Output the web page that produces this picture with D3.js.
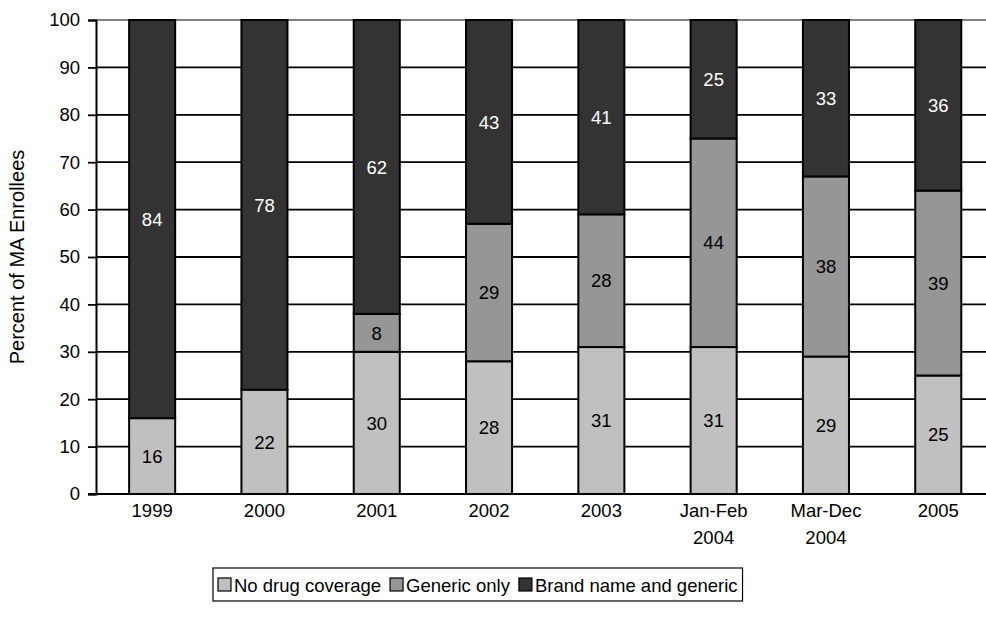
<!DOCTYPE html>
<html>
<head>
<meta charset="utf-8">
<script src="https://cdn.jsdelivr.net/npm/d3@7/dist/d3.min.js"></script>
<style>
  html, body { margin: 0; padding: 0; background: #fff; }
  svg { display: block; font-family: "Liberation Sans", Arial, sans-serif; }
</style>
</head>
<body>
<svg id="chart" width="986" height="639"></svg>
<script>
// Drug coverage of Medicare Advantage enrollees, by period
const periods = ["1999", "2000", "2001", "2002", "2003", "Jan-Feb\n2004", "Mar-Dec\n2004", "2005"];
const noDrug = [16, 22, 30, 28, 31, 31, 29, 25];
const genericOnly = [0, 0, 8, 29, 28, 44, 38, 39];
const brandAndGeneric = [84, 78, 62, 43, 41, 25, 33, 36];
const seriesNames = ["No drug coverage", "Generic only", "Brand name and generic"];
const yTicks = [0, 10, 20, 30, 40, 50, 60, 70, 80, 90, 100];

const colors = ["#c0c0c0", "#969696", "#333333"];
const labelColors = ["#000", "#000", "#fff"];
const fontSize = 18.5;

const svg = d3.select("#chart");
const margin = { left: 96, top: 20 };
const plotW = 112.3 * periods.length;
const plotBottom = 494;

const x = d3.scaleBand().domain(periods).range([margin.left, margin.left + plotW]).paddingInner(0.59).paddingOuter(0.295);
const y = d3.scaleLinear().domain([0, 100]).range([plotBottom, margin.top]);

// gridlines
svg.append("g")
  .selectAll("line")
  .data(yTicks.filter(t => t > 0 && t < 100))
  .join("line")
  .attr("x1", margin.left).attr("x2", margin.left + plotW)
  .attr("y1", d => y(d)).attr("y2", d => y(d))
  .attr("stroke", "#000").attr("stroke-width", 1.8);

// plot area top border
svg.append("line")
  .attr("x1", margin.left).attr("x2", margin.left + plotW)
  .attr("y1", y(100)).attr("y2", y(100))
  .attr("stroke", "#808080").attr("stroke-width", 2);

// stacked bars
const rows = periods.map((p, i) => ({ period: p, vals: [noDrug[i], genericOnly[i], brandAndGeneric[i]] }));
const segs = [];
rows.forEach(r => {
  let base = 0;
  r.vals.forEach((v, k) => {
    if (v > 0) segs.push({ period: r.period, k, y0: base, y1: base + v, v });
    base += v;
  });
});

svg.append("g")
  .selectAll("rect")
  .data(segs)
  .join("rect")
  .attr("x", d => x(d.period))
  .attr("width", x.bandwidth())
  .attr("y", d => y(d.y1))
  .attr("height", d => y(d.y0) - y(d.y1))
  .attr("fill", d => colors[d.k])
  .attr("stroke", "#000")
  .attr("stroke-width", 2);

svg.append("g")
  .selectAll("text")
  .data(segs)
  .join("text")
  .attr("x", d => x(d.period) + x.bandwidth() / 2)
  .attr("y", d => (y(d.y0) + y(d.y1)) / 2)
  .attr("dy", "0.36em")
  .attr("text-anchor", "middle")
  .attr("font-size", fontSize)
  .attr("fill", d => labelColors[d.k])
  .text(d => d.v);

// y axis
const yAxis = svg.append("g")
  .attr("transform", `translate(${margin.left},0)`)
  .call(d3.axisLeft(y).tickValues(yTicks).tickSize(8).tickPadding(8));
yAxis.select(".domain").attr("stroke", "#000").attr("stroke-width", 2);
yAxis.selectAll(".tick line").attr("stroke", "#000").attr("stroke-width", 1.8);
yAxis.selectAll(".tick text").attr("font-size", fontSize).attr("fill", "#000").attr("font-family", "Liberation Sans, Arial, sans-serif");

// x axis baseline
svg.append("line")
  .attr("x1", margin.left - 8).attr("x2", margin.left + plotW)
  .attr("y1", y(0)).attr("y2", y(0))
  .attr("stroke", "#000").attr("stroke-width", 2);

// category labels
const xl = svg.append("g")
  .selectAll("text")
  .data(periods)
  .join("text")
  .attr("x", d => x(d) + x.bandwidth() / 2)
  .attr("y", 517)
  .attr("text-anchor", "middle")
  .attr("font-size", fontSize)
  .attr("fill", "#000");
xl.each(function(d) {
  const t = d3.select(this);
  d.split("\n").forEach((line, i) => {
    t.append("tspan").attr("x", x(d) + x.bandwidth() / 2).attr("dy", i === 0 ? 0 : 27).text(line);
  });
});

// y axis title
svg.append("text")
  .attr("transform", `translate(24,${(y(0) + y(100)) / 2}) rotate(-90)`)
  .attr("text-anchor", "middle")
  .attr("font-size", 20)
  .attr("fill", "#000")
  .text("Percent of MA Enrollees");

// legend
const legend = svg.append("g").attr("transform", "translate(213,568)");
const legendBox = legend.append("rect")
  .attr("fill", "#fff").attr("stroke", "#000").attr("stroke-width", 1.2);
let lx = 5;
seriesNames.forEach((name, k) => {
  legend.append("rect")
    .attr("x", lx).attr("y", 10).attr("width", 13).attr("height", 13)
    .attr("fill", colors[k]).attr("stroke", "#000").attr("stroke-width", 1.2);
  const t = legend.append("text")
    .attr("x", lx + 16).attr("y", 17).attr("dy", "0.36em")
    .attr("font-size", fontSize).attr("fill", "#000").text(name);
  lx += 16 + t.node().getComputedTextLength() + 9;
});
legendBox.attr("x", 0).attr("y", 0).attr("width", lx - 4).attr("height", 33);
</script>
</body>
</html>
